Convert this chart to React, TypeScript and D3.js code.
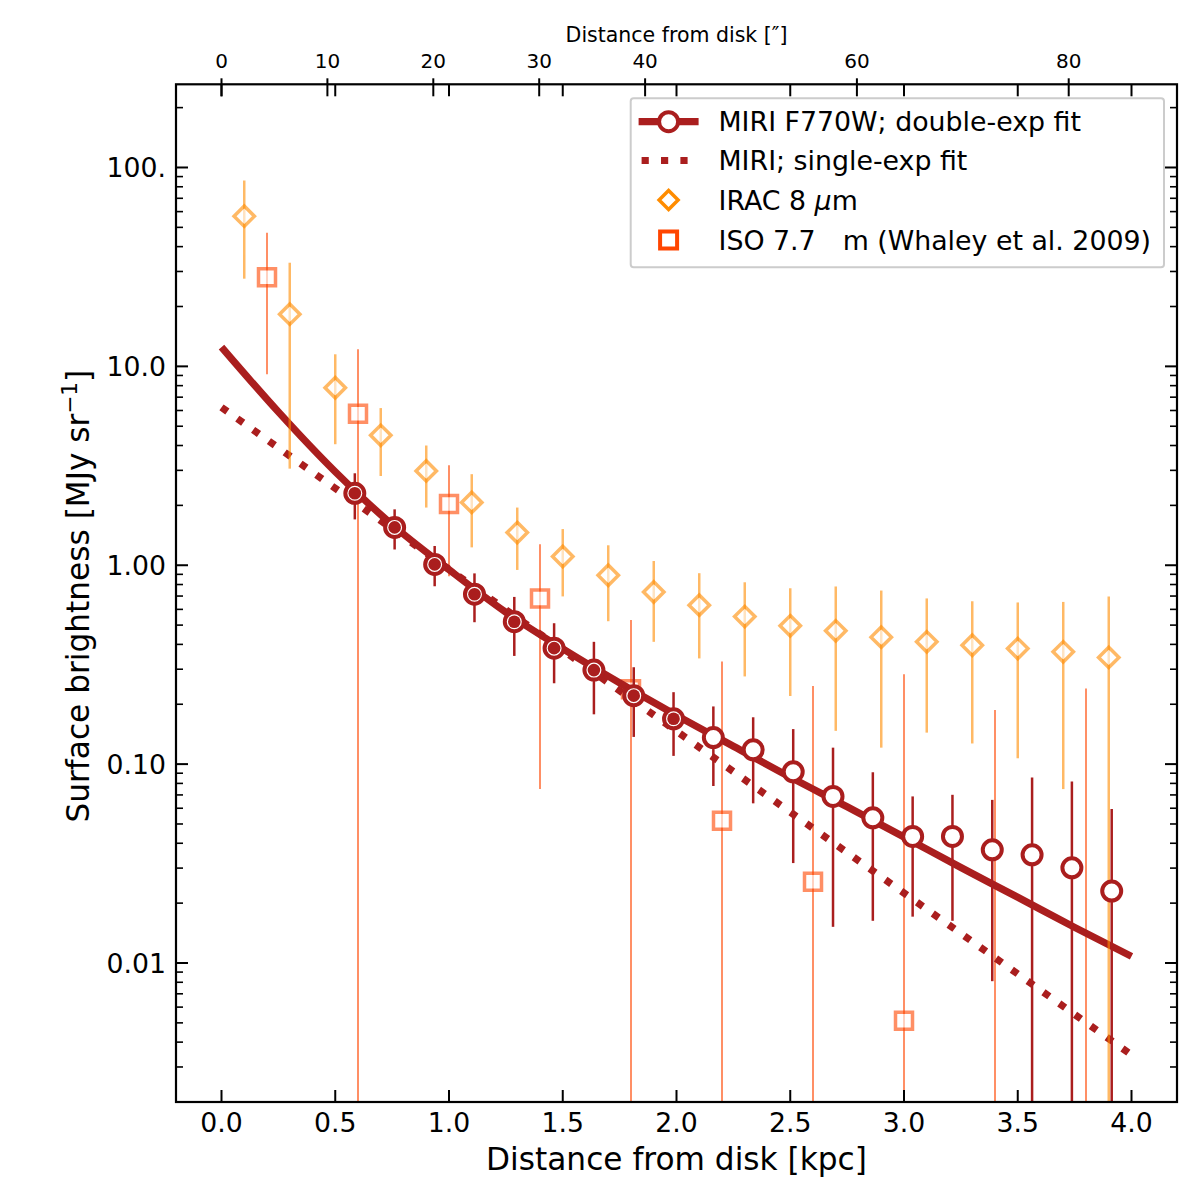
import React, { useRef, useEffect } from 'react';
import * as d3 from 'd3';

// MIRI F770W profile (kpc, MJy/sr)
const miriX = [0.586, 0.761, 0.937, 1.112, 1.287, 1.462, 1.637, 1.812, 1.987, 2.162,
    2.337, 2.513, 2.688, 2.863, 3.038, 3.213, 3.388, 3.563, 3.738, 3.913];
const miriY = [2.30, 1.55, 1.01, 0.715, 0.52, 0.383, 0.297, 0.221, 0.169, 0.136,
    0.118, 0.0915, 0.0688, 0.0537, 0.0433, 0.0433, 0.0371, 0.0350, 0.0301, 0.0230];
const miriHi = [2.90, 1.91, 1.25, 0.91, 0.693, 0.511, 0.412, 0.307, 0.230, 0.195,
    0.172, 0.150, 0.121, 0.0910, 0.0688, 0.0701, 0.0661, 0.0857, 0.0818, 0.0594];
const miriLo = [1.70, 1.20, 0.784, 0.517, 0.350, 0.255, 0.178, 0.137, 0.110, 0.0776,
    0.0635, 0.0318, 0.0152, 0.0163, 0.0171, 0.0163, 0.0081, 0.001, 0.001, 0.001];
// points drawn with a filled centre
const miriFilled = 9;

// IRAC 8 um
const iracX = [0.1, 0.3, 0.5, 0.7, 0.9, 1.1, 1.3, 1.5, 1.7, 1.9,
    2.1, 2.3, 2.5, 2.7, 2.9, 3.1, 3.3, 3.5, 3.7, 3.9];
const iracY = [56.9, 18.3, 7.81, 4.50, 2.98, 2.07, 1.46, 1.106, 0.891, 0.734,
    0.630, 0.552, 0.496, 0.468, 0.435, 0.412, 0.396, 0.381, 0.367, 0.344];
const iracHi = [86.0, 33.2, 11.5, 6.17, 4.0, 2.87, 1.95, 1.52, 1.26, 1.05,
    0.912, 0.821, 0.766, 0.782, 0.746, 0.681, 0.659, 0.650, 0.654, 0.697];
const iracLo = [27.6, 3.06, 4.06, 2.81, 1.95, 1.23, 0.947, 0.697, 0.523, 0.412,
    0.340, 0.276, 0.220, 0.147, 0.121, 0.144, 0.127, 0.107, 0.0749, 0.001];

// ISO 7.7 um (Whaley et al. 2009)
const isoX = [0.2, 0.6, 1.0, 1.4, 1.8, 2.2, 2.6, 3.0, 3.4, 3.8];
const isoY: (number | null)[] = [28.1, 5.78, 2.03, 0.680, 0.238, 0.0519, 0.0256, 0.00513, null, null];
const isoHi = [47.0, 12.2, 3.18, 1.275, 0.530, 0.328, 0.247, 0.283, 0.187, 0.240];
const isoLo = [9.12, 0.001, 0.88, 0.0749, 0.001, 0.001, 0.001, 0.001, 0.001, 0.001];

// fits
const fitX = [0, 0.25, 0.5, 0.75, 1.0, 1.25, 1.5, 1.75, 2.0, 2.25, 2.5, 2.75, 3.0, 3.25, 3.5, 3.75, 4.0];
const fitDouble = [12.5, 5.9, 2.95, 1.6, 0.95, 0.58, 0.38, 0.256, 0.176, 0.123, 0.086, 0.061,
    0.043, 0.0302, 0.0214, 0.0151, 0.0108];
const singleX = [0, 4.0];
const singleY = [6.22, 0.00345];

const xTicks = [0, 0.5, 1.0, 1.5, 2.0, 2.5, 3.0, 3.5, 4.0];
const yTicks = [0.01, 0.1, 1, 10, 100];
const yTickLabels = ['0.01', '0.10', '1.00', '10.0', '100.'];
const arcTicks = [0, 10, 20, 30, 40, 60, 80];
const kpcPerArcsec = 0.04655;

const MIRI = '#aa1e1e';
const IRAC = '#ff8c00';
const ISO = '#ff4500';
const FONT = 'DejaVu Sans';

export default function App() {
    const svgRef = useRef<SVGSVGElement | null>(null);

    useEffect(() => {
        if (!svgRef.current) return;
        const svg = d3.select(svgRef.current);
        svg.selectAll('*').remove();

        const left = 176, right = 1177, top = 84.3, bottom = 1102;
        const x = d3.scaleLinear().domain([-0.2, 4.2]).range([left, right]);
        const y = d3.scaleLog().domain([0.002, 262]).range([bottom, top]);
        const xa = d3.scaleLinear()
            .domain([-0.2 / kpcPerArcsec, 4.2 / kpcPerArcsec])
            .range([left, right]);

        svg.append('rect').attr('width', 1200).attr('height', 1200).attr('fill', '#fff');

        svg.append('defs').append('clipPath').attr('id', 'plotclip')
            .append('rect')
            .attr('x', left).attr('y', top)
            .attr('width', right - left).attr('height', bottom - top);

        const plot = svg.append('g').attr('clip-path', 'url(#plotclip)');

        const diamond = (cx: number, cy: number, h: number) =>
            `M${cx},${cy - h}L${cx + h},${cy}L${cx},${cy + h}L${cx - h},${cy}Z`;
        const square = (cx: number, cy: number, h: number) =>
            `M${cx - h},${cy - h}H${cx + h}V${cy + h}H${cx - h}Z`;

        // ISO
        const iso = plot.append('g');
        isoX.forEach((d, i) => {
            iso.append('line')
                .attr('x1', x(d)).attr('x2', x(d))
                .attr('y1', y(isoLo[i])).attr('y2', y(isoHi[i]))
                .attr('stroke', ISO).attr('stroke-width', 2).attr('opacity', 0.6);
        });
        isoX.forEach((d, i) => {
            const v = isoY[i];
            if (v == null) return;
            iso.append('path')
                .attr('d', square(x(d), y(v), 8.5))
                .attr('fill', '#fff').attr('stroke', ISO).attr('stroke-width', 3.5)
                .attr('opacity', 0.6);
        });

        // fit lines
        const line = d3.line<number>()
            .x((_, i) => x(fitX[i]))
            .y(d => y(d))
            .curve(d3.curveMonotoneX);
        const straight = d3.line<number>()
            .x((_, i) => x(singleX[i]))
            .y(d => y(d));

        plot.append('path')
            .attr('d', straight(singleY))
            .attr('fill', 'none').attr('stroke', MIRI)
            .attr('stroke-width', 7.2).attr('stroke-dasharray', '7.2 12.2');
        plot.append('path')
            .attr('d', line(fitDouble))
            .attr('fill', 'none').attr('stroke', MIRI).attr('stroke-width', 7.2);

        // IRAC
        const irac = plot.append('g');
        iracX.forEach((d, i) => {
            irac.append('line')
                .attr('x1', x(d)).attr('x2', x(d))
                .attr('y1', y(iracLo[i])).attr('y2', y(iracHi[i]))
                .attr('stroke', IRAC).attr('stroke-width', 2.5).attr('opacity', 0.6);
        });
        iracX.forEach((d, i) => {
            irac.append('path')
                .attr('d', diamond(x(d), y(iracY[i]), 10.2))
                .attr('fill', '#fff').attr('stroke', IRAC).attr('stroke-width', 3.5)
                .attr('opacity', 0.6);
        });

        // MIRI
        const miri = plot.append('g');
        miriX.forEach((d, i) => {
            miri.append('line')
                .attr('x1', x(d)).attr('x2', x(d))
                .attr('y1', y(miriLo[i])).attr('y2', y(miriHi[i]))
                .attr('stroke', MIRI).attr('stroke-width', 2.5);
        });
        miriX.forEach((d, i) => {
            miri.append('circle')
                .attr('cx', x(d)).attr('cy', y(miriY[i])).attr('r', 9.5)
                .attr('fill', '#fff').attr('stroke', MIRI).attr('stroke-width', 4);
            if (i < miriFilled) {
                miri.append('circle')
                    .attr('cx', x(d)).attr('cy', y(miriY[i])).attr('r', 6.3)
                    .attr('fill', MIRI);
            }
        });

        // axes frame and ticks
        const axes = svg.append('g').attr('stroke', '#000').attr('fill', 'none');
        axes.append('rect')
            .attr('x', left).attr('y', top)
            .attr('width', right - left).attr('height', bottom - top)
            .attr('stroke-width', 2.2);

        xTicks.forEach(t => {
            axes.append('line').attr('x1', x(t)).attr('x2', x(t))
                .attr('y1', bottom).attr('y2', bottom - 12).attr('stroke-width', 2);
            axes.append('line').attr('x1', x(t)).attr('x2', x(t))
                .attr('y1', top).attr('y2', top + 12).attr('stroke-width', 2);
        });

        yTicks.forEach(t => {
            axes.append('line').attr('x1', left).attr('x2', left + 12)
                .attr('y1', y(t)).attr('y2', y(t)).attr('stroke-width', 2);
            axes.append('line').attr('x1', right).attr('x2', right - 12)
                .attr('y1', y(t)).attr('y2', y(t)).attr('stroke-width', 2);
        });
        const [y0, y1] = y.domain();
        const minor: number[] = [];
        for (let dec = 0.001; dec < 1000; dec *= 10) {
            for (let k = 2; k <= 9; k++) {
                const v = +(k * dec).toPrecision(3);
                if (v >= y0 && v <= y1) minor.push(v);
            }
        }
        minor.forEach(t => {
            axes.append('line').attr('x1', left).attr('x2', left + 7)
                .attr('y1', y(t)).attr('y2', y(t)).attr('stroke-width', 1.6);
            axes.append('line').attr('x1', right).attr('x2', right - 7)
                .attr('y1', y(t)).attr('y2', y(t)).attr('stroke-width', 1.6);
        });

        arcTicks.forEach(t => {
            axes.append('line').attr('x1', xa(t)).attr('x2', xa(t))
                .attr('y1', top - 6).attr('y2', top + 12).attr('stroke-width', 2);
        });

        // tick labels
        const labels = svg.append('g').attr('font-family', FONT).attr('fill', '#000');
        xTicks.forEach(t => {
            labels.append('text')
                .attr('x', x(t)).attr('y', 1132)
                .attr('text-anchor', 'middle').attr('font-size', 26.7)
                .text(t.toFixed(1));
        });
        yTicks.forEach((t, i) => {
            labels.append('text')
                .attr('x', 166).attr('y', y(t)).attr('dy', '0.36em')
                .attr('text-anchor', 'end').attr('font-size', 26.7)
                .text(yTickLabels[i]);
        });
        arcTicks.forEach(t => {
            labels.append('text')
                .attr('x', xa(t)).attr('y', 68)
                .attr('text-anchor', 'middle').attr('font-size', 20)
                .text(String(t));
        });

        labels.append('text')
            .attr('x', (left + right) / 2).attr('y', 1170)
            .attr('text-anchor', 'middle').attr('font-size', 31.2)
            .text('Distance from disk [kpc]');
        labels.append('text')
            .attr('x', (left + right) / 2).attr('y', 41.5)
            .attr('text-anchor', 'middle').attr('font-size', 20.5)
            .text('Distance from disk [\u2033]');

        const ylab = labels.append('text')
            .attr('transform', `translate(89,${(top + bottom) / 2 + 3}) rotate(-90)`)
            .attr('text-anchor', 'middle').attr('font-size', 31.2);
        ylab.append('tspan').text('Surface brightness [MJy sr');
        ylab.append('tspan').attr('font-size', 21.5).attr('dy', -12).text('\u22121');
        ylab.append('tspan').attr('dy', 12).text(']');

        // legend
        const lg = svg.append('g').attr('font-family', FONT);
        lg.append('rect')
            .attr('x', 630.7).attr('y', 98.3).attr('width', 533.3).attr('height', 169)
            .attr('rx', 3)
            .attr('fill', '#fff').attr('fill-opacity', 0.8)
            .attr('stroke', '#cccccc').attr('stroke-width', 2);

        const rowY = [121.7, 160.5, 200, 240];
        const hx0 = 638.6, hx1 = 698.6, hc = 668.6, tx = 718.5;

        lg.append('line').attr('x1', hx0).attr('x2', hx1).attr('y1', rowY[0]).attr('y2', rowY[0])
            .attr('stroke', MIRI).attr('stroke-width', 7.2);
        lg.append('circle').attr('cx', hc).attr('cy', rowY[0]).attr('r', 9.5)
            .attr('fill', '#fff').attr('stroke', MIRI).attr('stroke-width', 4);

        lg.append('line').attr('x1', hx0 + 3).attr('x2', hx1).attr('y1', rowY[1]).attr('y2', rowY[1])
            .attr('stroke', MIRI).attr('stroke-width', 7.2).attr('stroke-dasharray', '7.2 12.2');

        lg.append('path').attr('d', diamond(hc, rowY[2], 9.5))
            .attr('fill', '#fff').attr('stroke', IRAC).attr('stroke-width', 3.5);
        lg.append('path').attr('d', square(hc, rowY[3], 8.5))
            .attr('fill', '#fff').attr('stroke', ISO).attr('stroke-width', 4);

        const lt = (i: number) => lg.append('text')
            .attr('x', tx).attr('y', rowY[i]).attr('dy', '0.36em')
            .attr('font-size', 26.8).attr('fill', '#000');
        lt(0).text('MIRI F770W; double-exp fit');
        lt(1).text('MIRI; single-exp fit');
        const t3 = lt(2);
        t3.append('tspan').text('IRAC 8 ');
        t3.append('tspan').attr('font-style', 'italic').text('\u03bc');
        t3.append('tspan').text('m');
        const t4 = lt(3);
        t4.append('tspan').text('ISO 7.7');
        t4.append('tspan').attr('dx', 27).text('m (Whaley et al. 2009)');
    }, []);

    return (
        <svg ref={svgRef} width={1200} height={1200}
            style={{ position: 'absolute', left: 0, top: 0 }} />
    );
}
